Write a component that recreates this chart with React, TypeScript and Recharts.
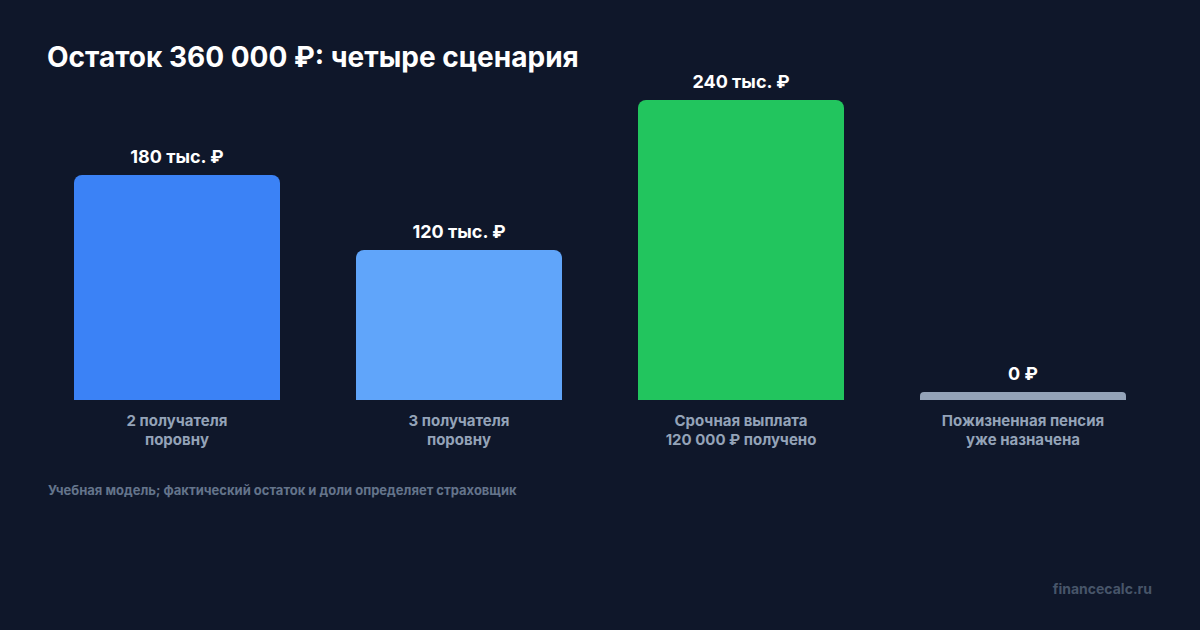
import { BarChart, Bar, XAxis, YAxis, Cell, LabelList } from 'recharts'

const categories = [
  ['2 получателя', 'поровну'],
  ['3 получателя', 'поровну'],
  ['Срочная выплата', '120 000 ₽ получено'],
  ['Пожизненная пенсия', 'уже назначена'],
]
const remainderK = [180, 120, 240, 0]
const valueLabels = ['180 тыс. ₽', '120 тыс. ₽', '240 тыс. ₽', '0 ₽']
const barColors = ['#3b82f6', '#60a5fa', '#22c55e', '#94a3b8']

const data = categories.map((c, i) => ({
  name: c.join('\n'),
  value: remainderK[i],
  label: valueLabels[i],
}))

const font = 'Inter, "Noto Sans", sans-serif'

function CategoryTick(props: any) {
  const { x, y, payload } = props
  const lines = String(payload.value).split('\n')
  return (
    <text x={x} y={y} textAnchor="middle" fill="#94a3b8" fontFamily={font} fontSize={15} fontWeight={700}>
      {lines.map((l, i) => (
        <tspan key={i} x={x} dy={i === 0 ? 25.5 : 19}>
          {l}
        </tspan>
      ))}
    </text>
  )
}

export default function App() {
  return (
    <div
      style={{
        position: 'absolute',
        left: 0,
        top: 0,
        width: 1200,
        height: 630,
        background: '#0f172a',
        fontFamily: font,
        overflow: 'hidden',
      }}
    >
      <div
        style={{
          position: 'absolute',
          left: 47,
          top: 43,
          fontSize: 28,
          lineHeight: 1,
          fontWeight: 700,
          color: '#ffffff',
          whiteSpace: 'nowrap',
        }}
      >
        Остаток 360 000 ₽: четыре сценария
      </div>

      <div style={{ position: 'absolute', left: 0, top: 0 }}>
        <BarChart
          width={1200}
          height={470}
          data={data}
          margin={{ top: 100, right: 36, left: 36, bottom: 0 }}
          barSize={206}
        >
          <XAxis
            dataKey="name"
            axisLine={false}
            tickLine={false}
            tickSize={0}
            tickMargin={0}
            height={70}
            interval={0}
            tick={<CategoryTick />}
          />
          <YAxis hide domain={[0, 240]} />
          <Bar dataKey="value" radius={[8, 8, 0, 0]} minPointSize={8} isAnimationActive={false}>
            {data.map((d, i) => (
              <Cell key={d.name} fill={barColors[i]} />
            ))}
            <LabelList
              dataKey="label"
              position="top"
              offset={12}
              fill="#ffffff"
              fontFamily={font}
              fontSize={18}
              fontWeight={700}
            />
          </Bar>
        </BarChart>
      </div>

      <div
        style={{
          position: 'absolute',
          left: 48,
          top: 483.5,
          fontSize: 13,
          lineHeight: 1,
          fontWeight: 700,
          color: '#64748b',
          whiteSpace: 'nowrap',
        }}
      >
        Учебная модель; фактический остаток и доли определяет страховщик
      </div>

      <div
        style={{
          position: 'absolute',
          right: 48,
          top: 582,
          fontSize: 14,
          lineHeight: 1,
          fontWeight: 700,
          color: '#475569',
          whiteSpace: 'nowrap',
        }}
      >
        financecalc.ru
      </div>
    </div>
  )
}
